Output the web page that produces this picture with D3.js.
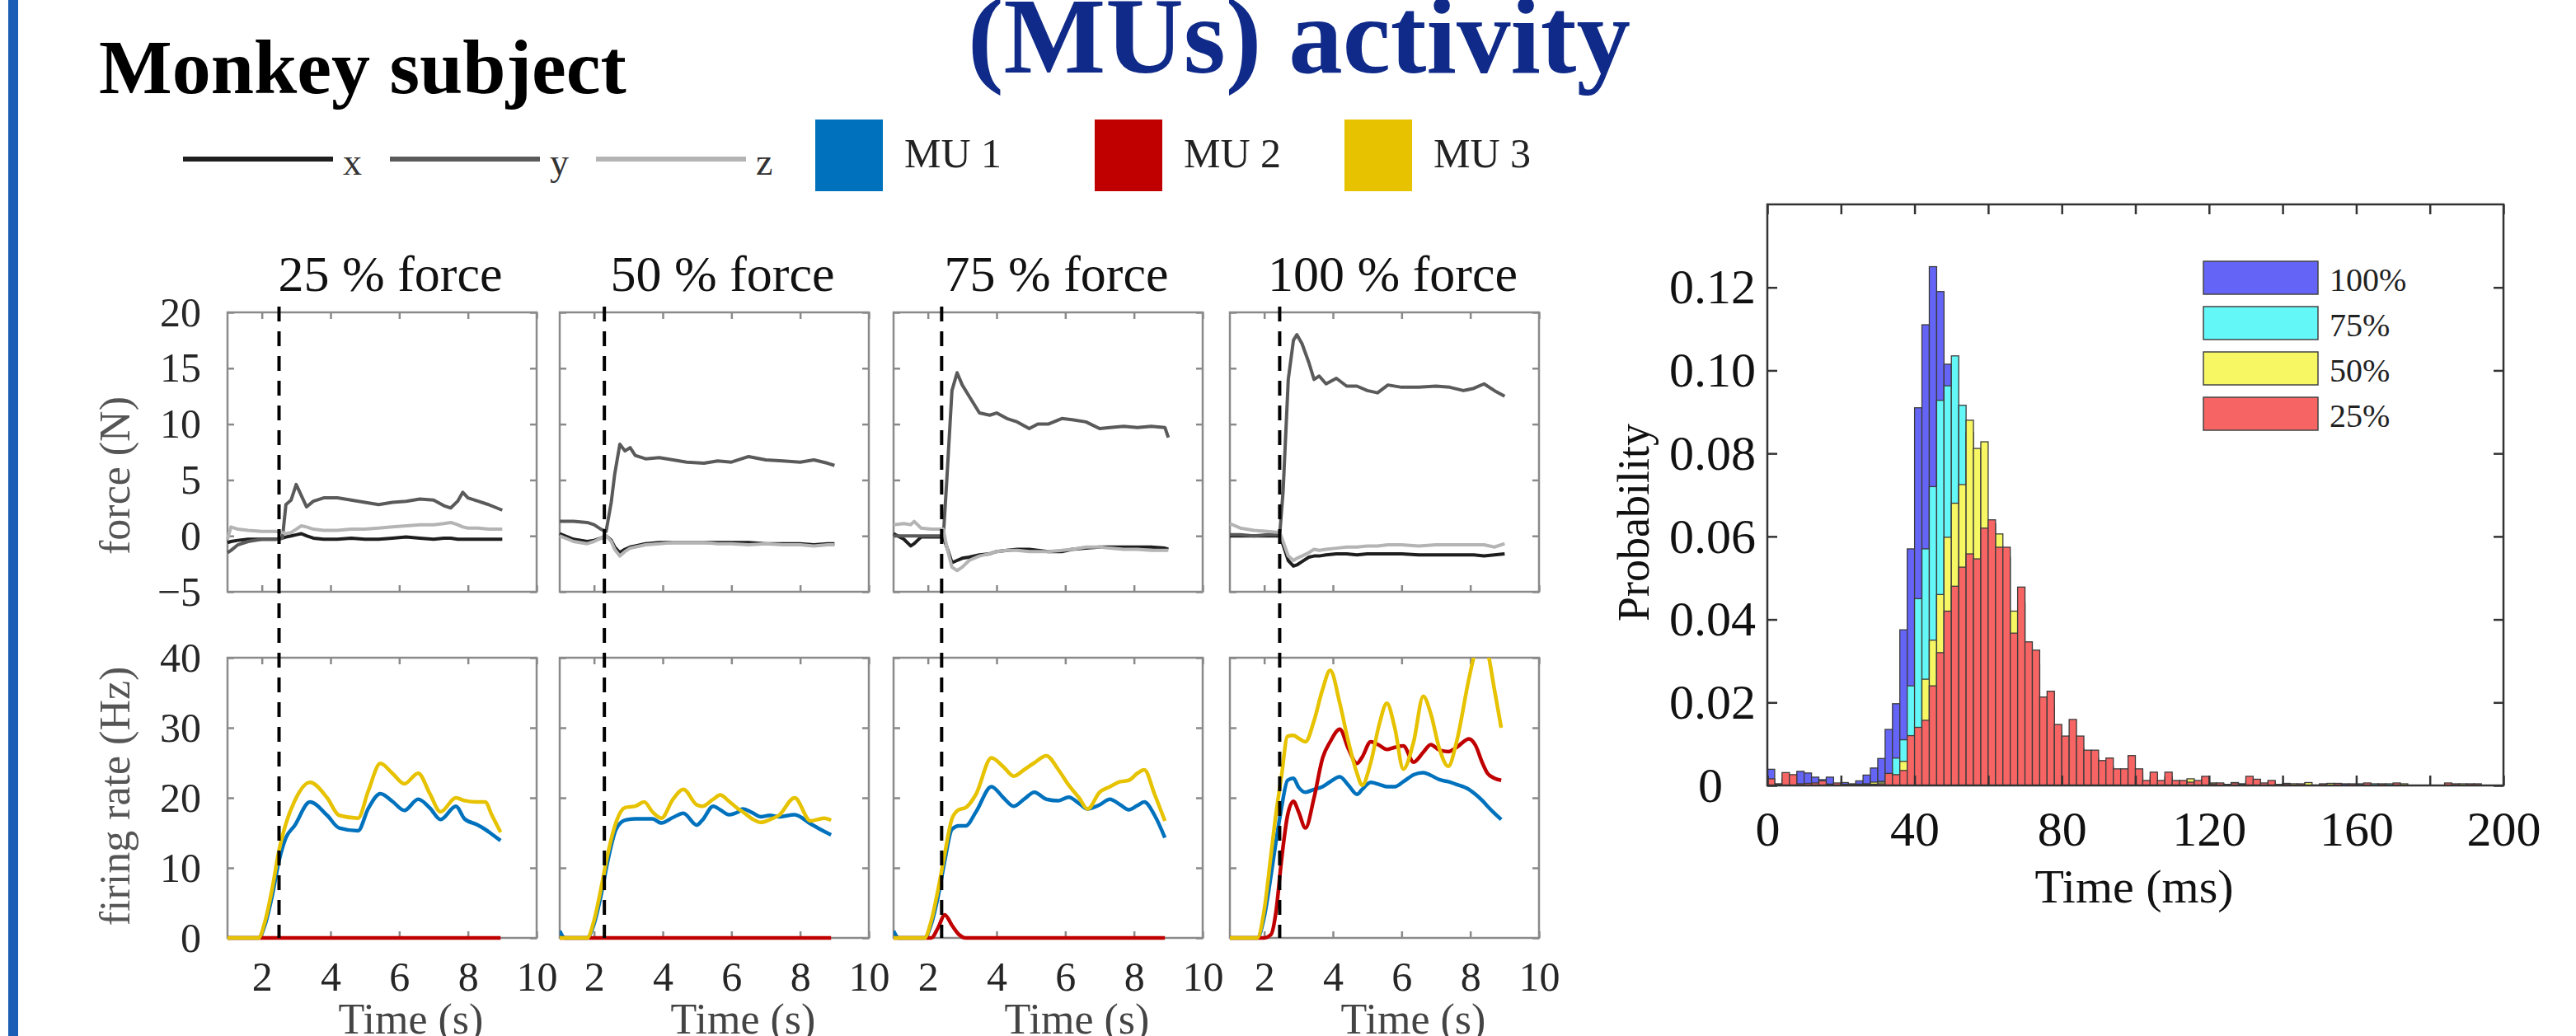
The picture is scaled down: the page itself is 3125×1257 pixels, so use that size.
<!DOCTYPE html>
<html>
<head>
<meta charset="utf-8">
<script src="https://cdn.jsdelivr.net/npm/d3@7"></script>
<style>
  body { margin: 0; background: #fff; }
  svg { display: block; }
</style>
</head>
<body>
<div id="chart"></div>
<script>
// ---- force traces (N), one time base per panel ----
const tF25 = [1.0, 1.1, 1.3, 1.6, 2.0, 2.4, 2.6, 2.7, 2.85, 3.0, 3.15, 3.3, 3.5, 3.8, 4.2, 4.6, 5.0, 5.4, 5.8, 6.2, 6.6, 7.0, 7.3, 7.5, 7.7, 7.85, 8.0, 8.3, 8.6, 9.0];
const fx25 = [-0.6, -0.5, -0.4, -0.3, -0.3, -0.3, -0.2, -0.1, 0.0, 0.1, 0.2, 0.0, -0.2, -0.3, -0.3, -0.2, -0.3, -0.3, -0.2, -0.1, -0.2, -0.3, -0.2, -0.2, -0.3, -0.3, -0.3, -0.3, -0.3, -0.3];
const fy25 = [-1.5, -1.3, -0.8, -0.5, -0.3, -0.3, -0.2, 2.8, 3.2, 4.6, 3.6, 2.6, 3.1, 3.4, 3.4, 3.2, 3.0, 2.8, 3.0, 3.1, 3.3, 3.2, 2.7, 2.5, 3.1, 3.9, 3.4, 3.1, 2.8, 2.3];
const fz25 = [-0.3, 0.8, 0.6, 0.5, 0.4, 0.4, 0.3, 0.2, 0.3, 0.6, 0.9, 0.8, 0.6, 0.5, 0.5, 0.6, 0.6, 0.7, 0.8, 0.9, 1.0, 1.0, 1.1, 1.2, 1.0, 0.8, 0.7, 0.7, 0.6, 0.6];

const tF50 = [1.0, 1.4, 1.8, 2.0, 2.2, 2.35, 2.5, 2.6, 2.75, 2.9, 3.05, 3.2, 3.5, 3.9, 4.3, 4.7, 5.2, 5.6, 6.0, 6.5, 7.0, 7.5, 8.0, 8.4, 8.8, 9.0];
const fx50 = [0.2, -0.3, -0.5, -0.4, -0.2, 0.0, -0.4, -1.0, -1.5, -1.2, -1.0, -0.9, -0.7, -0.6, -0.6, -0.6, -0.6, -0.6, -0.6, -0.6, -0.7, -0.7, -0.7, -0.8, -0.7, -0.7];
const fy50 = [1.3, 1.3, 1.2, 1.0, 0.6, 0.4, 3.0, 5.5, 8.2, 7.6, 7.9, 7.2, 6.9, 7.0, 6.8, 6.6, 6.5, 6.7, 6.6, 7.1, 6.8, 6.7, 6.6, 6.8, 6.5, 6.3];
const fz50 = [0.0, -0.5, -0.7, -0.5, -0.2, 0.0, -0.5, -1.2, -1.8, -1.4, -1.1, -1.0, -0.8, -0.7, -0.6, -0.6, -0.6, -0.7, -0.7, -0.8, -0.7, -0.8, -0.8, -0.9, -0.8, -0.8];

const tF75 = [1.0, 1.3, 1.5, 1.6, 1.8, 2.1, 2.45, 2.55, 2.7, 2.85, 3.0, 3.2, 3.5, 3.8, 4.0, 4.3, 4.6, 4.95, 5.2, 5.5, 5.9, 6.2, 6.6, 7.0, 7.3, 7.7, 8.1, 8.5, 8.9, 9.0];
const fx75 = [0.2, -0.3, -0.9, -0.7, -0.1, -0.1, -0.1, -1.0, -2.4, -2.2, -2.0, -1.9, -1.7, -1.6, -1.4, -1.3, -1.2, -1.2, -1.3, -1.4, -1.4, -1.2, -1.1, -1.0, -1.0, -1.0, -1.0, -1.0, -1.1, -1.2];
const fy75 = [0.0, 0.0, 0.0, 0.0, 0.0, 0.0, 0.0, 5.0, 13.0, 14.6, 13.5, 12.5, 11.0, 10.8, 11.0, 10.5, 10.2, 9.6, 10.0, 10.0, 10.5, 10.4, 10.2, 9.6, 9.7, 9.8, 9.7, 9.8, 9.7, 8.8];
const fz75 = [1.0, 1.1, 1.0, 1.3, 0.7, 0.6, 0.6, -1.0, -2.8, -3.1, -2.8, -2.2, -1.8, -1.6, -1.4, -1.3, -1.3, -1.4, -1.4, -1.4, -1.3, -1.2, -1.0, -1.0, -1.1, -1.2, -1.2, -1.3, -1.3, -1.3];

const tF100 = [1.0, 1.3, 1.7, 2.1, 2.45, 2.55, 2.7, 2.85, 2.95, 3.1, 3.3, 3.45, 3.6, 3.8, 4.1, 4.4, 4.7, 5.0, 5.3, 5.6, 6.0, 6.5, 7.0, 7.4, 7.8, 8.1, 8.4, 8.7, 9.0];
const fx100 = [0.0, 0.0, 0.0, 0.0, 0.0, -0.8, -2.2, -2.7, -2.6, -2.3, -1.9, -1.8, -1.8, -1.7, -1.6, -1.6, -1.7, -1.6, -1.6, -1.6, -1.6, -1.7, -1.7, -1.7, -1.7, -1.7, -1.8, -1.7, -1.6];
const fy100 = [0.1, 0.1, 0.0, 0.1, 0.1, 4.0, 14.0, 17.5, 18.0, 17.2, 15.5, 14.0, 14.3, 13.6, 14.1, 13.4, 13.4, 13.0, 12.8, 13.5, 13.3, 13.3, 13.4, 13.3, 13.0, 13.2, 13.6, 13.0, 12.5];
const fz100 = [1.1, 0.7, 0.5, 0.4, 0.3, -0.5, -1.8, -2.2, -2.0, -1.8, -1.5, -1.2, -1.3, -1.2, -1.1, -1.0, -1.0, -0.9, -0.9, -0.8, -0.8, -0.9, -0.8, -0.8, -0.8, -0.8, -0.8, -1.0, -0.7];

// ---- firing rates (Hz) ----
const tR25 = [1.0, 1.9, 2.1, 2.3, 2.5, 2.7, 2.95, 3.4, 3.9, 4.25, 4.8, 5.1, 5.45, 5.8, 6.15, 6.55, 6.9, 7.2, 7.65, 7.9, 8.25, 8.5, 8.7, 8.95];
const mu1_25 = [0, 0, 2, 6, 11, 14.3, 16, 19.4, 17.5, 15.7, 15.3, 18.5, 20.6, 19.5, 18.2, 19.8, 18.5, 16.9, 18.8, 17.0, 16.2, 15.5, 14.8, 13.9];
const mu2_25 = [0, 0, 0, 0, 0, 0, 0, 0, 0, 0, 0, 0, 0, 0, 0, 0, 0, 0, 0, 0, 0, 0, 0, 0];
const mu3_25 = [0, 0, 2.5, 7, 12.5, 16.3, 19.5, 22.2, 20, 17.5, 17.1, 21, 24.9, 23.5, 22.0, 23.5, 20.5, 18.0, 20.0, 19.6, 19.4, 19.4, 17.5, 15.1];

const tR50 = [1.0, 1.15, 1.8, 2.0, 2.2, 2.4, 2.64, 2.9, 3.2, 3.46, 3.7, 3.96, 4.3, 4.6, 4.99, 5.15, 5.47, 5.67, 5.93, 6.2, 6.33, 6.6, 6.86, 7.12, 7.38, 7.84, 8.3, 8.7, 8.9];
const mu1_50 = [1.0, 0, 0, 2, 6, 11, 15.5, 16.8, 17.0, 17.0, 17.0, 16.4, 17.2, 17.8, 16.1, 16.8, 18.8, 18.3, 17.6, 18.0, 18.4, 17.9, 17.3, 17.5, 17.3, 17.6, 16.3, 15.2, 14.7];
const mu2_50 = [0, 0, 0, 0, 0, 0, 0, 0, 0, 0, 0, 0, 0, 0, 0, 0, 0, 0, 0, 0, 0, 0, 0, 0, 0, 0, 0, 0, 0];
const mu3_50 = [0, 0, 0, 2.5, 7, 12, 16.5, 18.6, 18.8, 19.4, 18.0, 17.1, 19.8, 21.2, 19.0, 18.8, 19.8, 20.4, 19.5, 18.4, 18.0, 17.0, 16.5, 16.9, 17.5, 20.0, 16.7, 17.1, 16.8];

const tR75 = [1.0, 1.15, 1.9, 2.1, 2.3, 2.49, 2.7, 2.9, 3.1, 3.4, 3.85, 4.2, 4.5, 4.8, 5.1, 5.45, 5.8, 6.1, 6.4, 6.65, 7.0, 7.3, 7.6, 7.85, 8.1, 8.3, 8.6, 8.9];
const mu1_75 = [1.0, 0, 0, 2, 6, 11, 15.5, 16.0, 16.0, 18.0, 21.6, 20.0, 18.8, 19.8, 20.8, 19.8, 19.6, 20.1, 19.2, 18.4, 19.0, 19.8, 19.0, 18.3, 18.9, 19.4, 17.5, 14.3];
const mu2_75 = [0, 0, 0, 0, 1.5, 3.3, 1.8, 0.5, 0, 0, 0, 0, 0, 0, 0, 0, 0, 0, 0, 0, 0, 0, 0, 0, 0, 0, 0, 0];
const mu3_75 = [0, 0, 0, 2.5, 7, 12, 17, 18.3, 18.6, 20.5, 25.7, 24.4, 23.1, 24.0, 25.0, 26.0, 24.0, 21.8, 20.0, 18.4, 20.8, 21.6, 22.3, 22.5, 23.5, 24.0, 20.5, 16.7];

const tR100 = [1.0, 1.8, 2.0, 2.2, 2.35, 2.5, 2.68, 2.85, 3.0, 3.2, 3.45, 3.7, 3.92, 4.2, 4.45, 4.7, 4.85, 5.1, 5.35, 5.57, 5.8, 6.05, 6.35, 6.63, 6.85, 7.1, 7.36, 7.6, 7.96, 8.15, 8.35, 8.5, 8.7, 8.9];
const mu1_100 = [0, 0, 3, 9, 14, 18.5, 22.5, 22.8, 21.5, 20.8, 21.2, 21.6, 22.3, 23.0, 21.8, 20.5, 21.2, 22.2, 21.9, 21.6, 21.6, 22.3, 23.3, 23.6, 23.2, 22.6, 22.3, 21.9, 21.2, 20.5, 19.6, 18.8, 17.8, 16.9];
const mu2_100 = [0, 0, 0, 0.5, 4, 11, 17.5, 19.5, 18, 15.7, 20, 25.7, 28, 29.8, 27, 24.9, 25.8, 28, 27.5, 26.9, 27.2, 27.4, 25.1, 26.5, 27.6, 26.8, 26.6, 27.2, 28.4, 27.5, 25, 23.5, 22.8, 22.5];
const mu3_100 = [0, 0, 4, 12, 18, 23, 28.8, 28.9, 28.5, 28.0, 31, 35.5, 38.2, 33.5, 28, 23.5, 21.8, 25, 30.5, 33.5, 30, 24.1, 28, 34.5, 32, 27, 24.5, 28, 37, 41, 43, 41, 35.5, 30];

const levels = ["25", "50", "75", "100"];
const onsets = [2.5, 2.3, 2.4, 2.45];

// ---- onset latency histogram, 2 ms bins from 0 to 200 ms ----
const h100 = [0.0039, 0.0004, 0.0015, 0.0012, 0.0034, 0.0030, 0.0020, 0.0014, 0.0020, 0.0004,
  0.0007, 0.0004, 0.0011, 0.0025, 0.0042, 0.0065, 0.0135, 0.0197, 0.0375, 0.0570,
  0.0910, 0.1110, 0.1250, 0.1190, 0.1015, 0.0900, 0.0700, 0.0500, 0.0350, 0.0250,
  0.0180, 0.0120, 0.0090, 0.0070, 0.0050, 0.0040, 0.0030, 0.0020, 0.0020, 0.0015,
  0.0010, 0.0010, 0.0008, 0.0006, 0.0005, 0.0004, 0.0004, 0.0003, 0.0003, 0.0003,
  0.0002, 0.0001, 0.0001, 0.0001, 0.0001, 0.0001, 0.0001, 0.0001, 0.0001, 0.0001,
  0.0001, 0.0001, 0.0001, 0.0001, 0.0001, 0.0001, 0.0001, 0.0001, 0.0001, 0.0001,
  0.0005, 0, 0, 0, 0, 0, 0, 0.0004, 0.0004, 0,
  0, 0, 0, 0, 0, 0, 0, 0, 0, 0,
  0, 0, 0, 0, 0, 0, 0, 0, 0, 0];
const h75 = [0.0005, 0.0003, 0.0003, 0.0004, 0.0003, 0.0002, 0.0003, 0.0002, 0.0003, 0.0002,
  0.0002, 0.0002, 0.0003, 0.0004, 0.0006, 0.0010, 0.0022, 0.0066, 0.0110, 0.0240,
  0.0450, 0.0570, 0.0720, 0.0928, 0.0963, 0.1035, 0.0916, 0.0850, 0.0700, 0.0600,
  0.0500, 0.0400, 0.0350, 0.0280, 0.0250, 0.0200, 0.0150, 0.0120, 0.0100, 0.0080,
  0.0060, 0.0060, 0.0050, 0.0040, 0.0030, 0.0030, 0.0020, 0.0020, 0.0020, 0.0020,
  0.0020, 0.0010, 0.0010, 0.0010, 0.0008, 0.0008, 0.0006, 0.0006, 0.0005, 0.0005,
  0.0005, 0.0003, 0.0002, 0.0004, 0.0002, 0.0003, 0.0003, 0.0002, 0.0002, 0.0001,
  0.0003, 0.0003, 0.0001, 0.0001, 0.0001, 0, 0, 0, 0, 0,
  0.0004, 0, 0.0004, 0, 0.0004, 0, 0, 0, 0, 0,
  0, 0, 0, 0, 0, 0, 0, 0, 0, 0];
const h50 = [0.0003, 0.0002, 0.0002, 0.0003, 0.0002, 0.0002, 0.0004, 0.0003, 0.0002, 0.0003,
  0.0002, 0.0002, 0.0002, 0.0003, 0.0008, 0.0008, 0.0012, 0.0016, 0.0058, 0.0110,
  0.0130, 0.0256, 0.0350, 0.0460, 0.0598, 0.0680, 0.0725, 0.0880, 0.0812, 0.0828,
  0.0630, 0.0606, 0.0550, 0.0420, 0.0440, 0.0320, 0.0290, 0.0200, 0.0190, 0.0130,
  0.0105, 0.0120, 0.0090, 0.0070, 0.0065, 0.0050, 0.0045, 0.0030, 0.0030, 0.0040,
  0.0030, 0.0010, 0.0020, 0.0010, 0.0020, 0.0010, 0.0010, 0.0016, 0.0010, 0.0015,
  0.0006, 0.0005, 0.0002, 0.0007, 0.0004, 0.0010, 0.0010, 0.0004, 0.0008, 0.0002,
  0.0003, 0.0004, 0.0002, 0.0007, 0, 0.0002, 0.0005, 0.0003, 0, 0.0002,
  0.0002, 0.0003, 0, 0.0002, 0, 0.0003, 0.0004, 0, 0, 0,
  0, 0, 0, 0, 0.0004, 0, 0, 0, 0, 0];
const h25 = [0.0016, 0, 0.0031, 0.0026, 0.0004, 0.0005, 0.0006, 0.0011, 0.0003, 0.0006,
  0, 0, 0.0003, 0.0002, 0.0003, 0.0004, 0.0029, 0.0026, 0.0036, 0.0120,
  0.0140, 0.0157, 0.0240, 0.0320, 0.0420, 0.0480, 0.0526, 0.0558, 0.0546, 0.0620,
  0.0640, 0.0574, 0.0574, 0.0367, 0.0478, 0.0346, 0.0326, 0.0213, 0.0227, 0.0147,
  0.0119, 0.0159, 0.0119, 0.0085, 0.0085, 0.0060, 0.0066, 0.0040, 0.0040, 0.0072,
  0.0040, 0.0012, 0.0032, 0.0012, 0.0032, 0.0012, 0.0012, 0.0008, 0.0012, 0.0022,
  0.0004, 0.0006, 0.0002, 0.0006, 0.0003, 0.0022, 0.0015, 0.0006, 0.0012, 0.0002,
  0.0004, 0, 0.0004, 0, 0, 0.0004, 0, 0.0005, 0, 0.0004,
  0, 0.0006, 0, 0.0004, 0, 0.0006, 0, 0, 0, 0,
  0, 0, 0.0006, 0.0004, 0, 0.0004, 0.0004, 0, 0, 0];
const histLabels = ["100%", "75%", "50%", "25%"];
const binWidth = 2;

// ---------------------------------------------------------------
const width = 3125, height = 1257;
const serif = '"Liberation Serif", "Times New Roman", Times, serif';

const svg = d3.select("#chart").append("svg")
    .attr("width", width)
    .attr("height", height)
    .attr("viewBox", [0, 0, width, height])
    .style("font-family", serif);

svg.append("rect").attr("width", width).attr("height", height).attr("fill", "#fff");

// slide decoration + headings
svg.append("rect").attr("x", 10).attr("y", 0).attr("width", 12).attr("height", height).attr("fill", "#1a5fb5");
svg.append("text").attr("x", 120).attr("y", 113)
    .attr("font-size", 94).attr("font-weight", "bold").attr("fill", "#000")
    .text("Monkey subject");
svg.append("text").attr("x", 1174).attr("y", 88)
    .attr("font-size", 131).attr("font-weight", "bold").attr("fill", "#0f2a88")
    .text("(MUs) activity");

// box with inward ticks on all four sides (matlab look)
function frame(x, y, o) {
    const g = svg.append("g");
    const [x0, x1] = x.range(), [yb, yt] = y.range();
    g.append("g").attr("class", "xaxis").attr("transform", `translate(0,${yb})`)
        .call(d3.axisBottom(x).tickValues(o.xt).tickSize(-o.tick).tickPadding(o.xpad).tickFormat(o.xf));
    g.append("g").attr("transform", `translate(0,${yt})`)
        .call(d3.axisTop(x).tickValues(o.xt).tickSize(-o.tick).tickFormat(""));
    g.append("g").attr("class", "yaxis").attr("transform", `translate(${x0},0)`)
        .call(d3.axisLeft(y).tickValues(o.yt).tickSize(-o.tick).tickPadding(o.ypad).tickFormat(o.yf));
    g.append("g").attr("transform", `translate(${x1},0)`)
        .call(d3.axisRight(y).tickValues(o.yt).tickSize(-o.tick).tickFormat(""));
    g.selectAll(".domain").remove();
    g.selectAll(".tick line").attr("stroke", o.color).attr("stroke-width", o.sw);
    g.selectAll(".tick text").attr("font-size", o.fs).attr("fill", o.tc).attr("font-family", serif);
    g.append("rect")
        .attr("x", x0).attr("y", yt).attr("width", x1 - x0).attr("height", yb - yt)
        .attr("fill", "none").attr("stroke", o.color).attr("stroke-width", o.sw);
    return g;
}

// ---- legend for the traces ----
const forceKeys = ["x", "y", "z"];
const forceColors = ["#1e1e1e", "#5a5a5a", "#b4b4b4"];
const muKeys = ["MU 1", "MU 2", "MU 3"];
const muColors = ["#0072bd", "#c00000", "#e6c200"];

const legLine = [222, 473, 723];
forceKeys.forEach((k, i) => {
    svg.append("line").attr("x1", legLine[i]).attr("x2", legLine[i] + 182)
        .attr("y1", 193).attr("y2", 193)
        .attr("stroke", forceColors[i]).attr("stroke-width", 6);
    svg.append("text").attr("x", legLine[i] + 194).attr("y", 212)
        .attr("font-size", 46).attr("fill", "#333").text(k);
});
const legRect = [989, 1328, 1631];
muKeys.forEach((k, i) => {
    svg.append("rect").attr("x", legRect[i]).attr("y", 145).attr("width", 82).attr("height", 87)
        .attr("fill", muColors[i]);
    svg.append("text").attr("x", legRect[i] + 108).attr("y", 203)
        .attr("font-size", 50).attr("fill", "#222").text(k);
});

// ---- four force / firing-rate panels ----
const forceT = [tF25, tF50, tF75, tF100];
const forceSeries = [[fx25, fy25, fz25], [fx50, fy50, fz50], [fx75, fy75, fz75], [fx100, fy100, fz100]];
const rateT = [tR25, tR50, tR75, tR100];
const rateSeries = [[mu1_25, mu2_25, mu3_25], [mu1_50, mu2_50, mu3_50], [mu1_75, mu2_75, mu3_75], [mu1_100, mu2_100, mu3_100]];

const panelLeft = [276, 679, 1084, 1492], panelW = 375;
const yF = d3.scaleLinear().domain([-5, 20]).range([718, 379]);
const yR = d3.scaleLinear().domain([0, 40]).range([1138, 798]);

levels.forEach((lev, i) => {
    const L = panelLeft[i];
    const x = d3.scaleLinear().domain([1, 10]).range([L, L + panelW]);
    const common = { xt: [2, 4, 6, 8, 10], tick: 8, xpad: 28, ypad: 32, color: "#8a8a8a", sw: 2.5, fs: 50, tc: "#262626" };

    frame(x, yF, { ...common, yt: [-5, 0, 5, 10, 15, 20], xf: () => "", yf: i === 0 ? d3.format("d") : () => "" });
    frame(x, yR, { ...common, yt: [0, 10, 20, 30, 40], xf: d3.format("d"), yf: i === 0 ? d3.format("d") : () => "" });

    // force traces
    const tf = forceT[i];
    forceSeries[i].forEach((vals, k) => {
        svg.append("path")
            .datum(vals)
            .attr("fill", "none")
            .attr("stroke", forceColors[k])
            .attr("stroke-width", 4)
            .attr("stroke-linejoin", "round")
            .attr("d", d3.line().x((d, j) => x(tf[j])).y(d => yF(d)));
    });

    // firing rates, clipped to the axes box
    const clipId = "clip" + i;
    svg.append("clipPath").attr("id", clipId)
        .append("rect").attr("x", L).attr("y", yR(40)).attr("width", panelW).attr("height", yR(0) - yR(40) + 3);
    const tr = rateT[i];
    rateSeries[i].forEach((vals, k) => {
        svg.append("path")
            .datum(vals)
            .attr("clip-path", `url(#${clipId})`)
            .attr("fill", "none")
            .attr("stroke", muColors[k])
            .attr("stroke-width", 4.5)
            .attr("d", d3.line().curve(d3.curveMonotoneX).x((d, j) => x(tr[j])).y(d => yR(d)));
    });

    // onset marker across both rows
    svg.append("line")
        .attr("x1", x(onsets[i])).attr("x2", x(onsets[i]))
        .attr("y1", 372).attr("y2", 1138)
        .attr("stroke", "#000").attr("stroke-width", 4).attr("stroke-dasharray", "18,12");

    svg.append("text").attr("x", L + panelW / 2 + 10).attr("y", 353)
        .attr("text-anchor", "middle").attr("font-size", 62).attr("fill", "#111")
        .text(`${lev} % force`);
    svg.append("text").attr("x", L + panelW / 2 + 35).attr("y", 1254)
        .attr("text-anchor", "middle").attr("font-size", 52).attr("fill", "#444")
        .text("Time (s)");
});

svg.append("text").attr("transform", "translate(157,577) rotate(-90)")
    .attr("text-anchor", "middle").attr("font-size", 52).attr("fill", "#555").text("force (N)");
svg.append("text").attr("transform", "translate(157,966) rotate(-90)")
    .attr("text-anchor", "middle").attr("font-size", 52).attr("fill", "#555").text("firing rate (Hz)");

// ---- histogram ----
const histSeries = [h100, h75, h50, h25];
const histColors = ["#6464f7", "#64f7f7", "#f7f764", "#f76464"];

const xh = d3.scaleLinear().domain([0, 200]).range([2144, 3037]);
const yh = d3.scaleLinear().domain([0, 0.14]).range([953, 248]);

histSeries.forEach((vals, s) => {
    svg.append("g")
        .selectAll("rect")
        .data(vals.map((v, k) => ({ k, v })).filter(d => d.v > 0))
        .join("rect")
        .attr("x", d => xh(d.k * binWidth))
        .attr("width", xh(binWidth) - xh(0))
        .attr("y", d => yh(d.v))
        .attr("height", d => yh(0) - yh(d.v))
        .attr("fill", histColors[s])
        .attr("stroke", "#3c3c3c")
        .attr("stroke-width", 1.3);
});

const hg = frame(xh, yh, {
    xt: d3.range(0, 201, 20), xf: d => d % 40 === 0 ? d : "",
    yt: [0, 0.02, 0.04, 0.06, 0.08, 0.10, 0.12], yf: d => d === 0 ? "0" : d3.format(".2f")(d),
    tick: 12, xpad: 30, ypad: 14, color: "#333", sw: 2.5, fs: 60, tc: "#111"
});
hg.select(".yaxis").selectAll(".tick").filter(d => d === 0).select("text").attr("x", -54);

svg.append("text").attr("transform", "translate(2000,634) rotate(-90)")
    .attr("text-anchor", "middle").attr("font-size", 54).attr("fill", "#111").text("Probability");
svg.append("text").attr("x", 2589).attr("y", 1095)
    .attr("text-anchor", "middle").attr("font-size", 58).attr("fill", "#111").text("Time (ms)");

// legend
histLabels.forEach((lab, s) => {
    const yTop = 317 + s * 55;
    svg.append("rect").attr("x", 2673).attr("y", yTop).attr("width", 139).attr("height", 40)
        .attr("fill", histColors[s]).attr("stroke", "#444").attr("stroke-width", 1.5);
    svg.append("text").attr("x", 2826).attr("y", yTop + 36)
        .attr("font-size", 40).attr("fill", "#222").text(lab);
});
</script>
</body>
</html>
